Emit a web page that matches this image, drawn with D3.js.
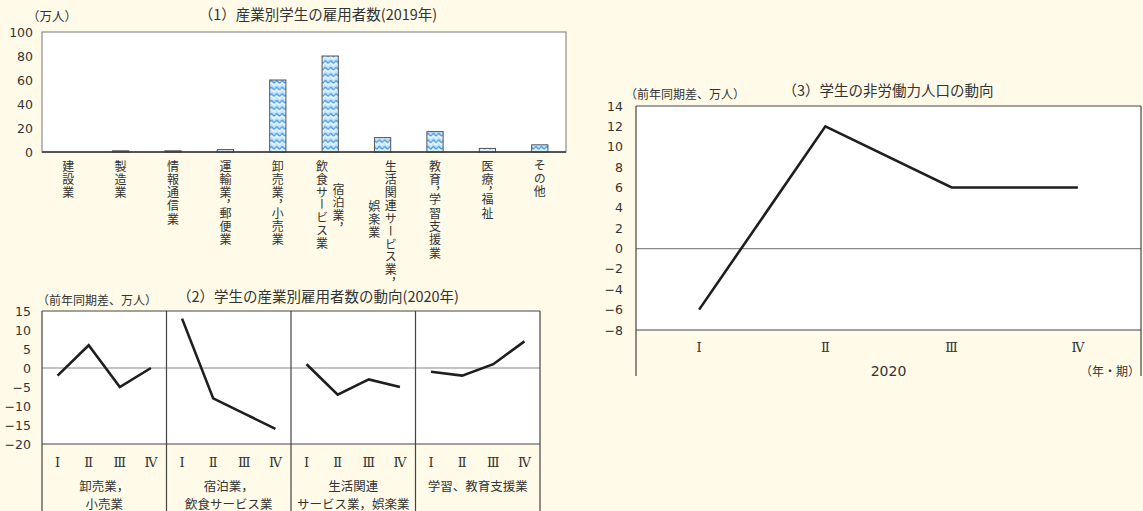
<!DOCTYPE html>
<html><head><meta charset="utf-8">
<script src="https://cdn.jsdelivr.net/npm/d3@7"></script>
<style>
html,body{margin:0;padding:0;background:#fffbe8;}
svg{display:block;font-family:"Noto Sans CJK JP","Noto Sans",sans-serif;}
.vt{writing-mode:vertical-rl;font-feature-settings:"vpal" 1;}
</style></head><body>
<svg id="c" width="1143" height="511"></svg>
<script>
// ---------- data ----------
const industries2019 = [["建設業"],["製造業"],["情報通信業"],["運輸業，郵便業"],["卸売業，小売業"],["宿泊業，","飲食サービス業"],["生活関連サービス業，","娯楽業"],["教育，学習支援業"],["医療，福祉"],["その他"]];
const students2019 = [0, 1, 1, 2, 60, 80, 12, 17, 3, 6];
const yTicks1 = [0, 20, 40, 60, 80, 100];

const quarters = ["Ⅰ","Ⅱ","Ⅲ","Ⅳ"];
const industries2020 = [["卸売業，","小売業"],["宿泊業，","飲食サービス業"],["生活関連","サービス業，娯楽業"],["学習、教育支援業"]];
const wholesaleRetail = [-2, 6, -5, 0];
const accommodationFood = [13, -8, -12, -16];
const livingAmusement = [1, -7, -3, -5];
const educationSupport = [-1, -2, 1, 7];
const yTicks2 = [15, 10, 5, 0, -5, -10, -15, -20];

const nonLabor2020 = [-6, 12, 6, 6];
const yTicks3 = [14, 12, 10, 8, 6, 4, 2, 0, -2, -4, -6, -8];

const title1 = "（1）産業別学生の雇用者数(2019年)";
const title2 = "（2）学生の産業別雇用者数の動向(2020年)";
const title3 = "（3）学生の非労働力人口の動向";
const unit1 = "（万人）";
const unit2 = "（前年同期差、万人）";
const yearLabel = "2020";
const periodLabel = "（年・期）";

// ---------- drawing ----------
const svg = d3.select("#c");
const TXT = "#333";
const FRAME = "#444";
const NUMFONT = "DejaVu Sans, sans-serif";
const ROMANFONT = "DejaVu Serif, serif";

const defs = svg.append("defs");
const pat = defs.append("pattern").attr("id","wave").attr("patternUnits","userSpaceOnUse")
  .attr("width",5.4).attr("height",6.6);
pat.append("rect").attr("width",5.4).attr("height",6.6).attr("fill","#bfe3fb");
pat.append("path").attr("d","M0,2.6 Q1.35,0.6 2.7,2.6 T5.4,2.6").attr("fill","none").attr("stroke","#3a8ee4").attr("stroke-width",1.2);
pat.append("path").attr("d","M0,5.0 Q1.35,3.0 2.7,5.0 T5.4,5.0").attr("fill","none").attr("stroke","#ffffff").attr("stroke-width",1.0);

function yAxis(g, scale, ticks, x, size) {
  const ax = d3.axisLeft(scale).tickValues(ticks).tickSize(0).tickPadding(0).tickFormat(d3.format("d"));
  const a = g.append("g").attr("transform",`translate(${x},0)`).call(ax);
  a.select(".domain").remove();
  a.selectAll("text").attr("font-size",size).attr("fill",TXT).attr("font-family",NUMFONT);
}

// ===== Panel 1 =====
{
  const L=42, R=566, T=32, B=152;
  const x = d3.scaleBand().domain(d3.range(industries2019.length)).range([L,R]).paddingInner(0.69).paddingOuter(0.345);
  const y = d3.scaleLinear().domain([0,100]).range([B,T]);
  const g = svg.append("g");
  g.append("rect").attr("x",L).attr("y",T).attr("width",R-L).attr("height",B-T).attr("fill","#fff").attr("stroke","#777").attr("stroke-width",1);
  g.selectAll(".bar").data(students2019.map((v,i)=>({v,i})).filter(d=>d.v>0)).join("rect")
    .attr("x",d=>x(d.i)).attr("width",x.bandwidth())
    .attr("y",d=>y(d.v)).attr("height",d=>y(0)-y(d.v))
    .attr("fill","url(#wave)").attr("stroke","#555").attr("stroke-width",1);
  g.append("line").attr("x1",L).attr("x2",R).attr("y1",B).attr("y2",B).attr("stroke","#333").attr("stroke-width",1.5);
  yAxis(g, y, yTicks1, 33, 12.5);
  const colOffsets = {5:[23,0], 6:[0,40]};
  industries2019.forEach((cols,i)=>{
    const cx = x(i)+x.bandwidth()/2;
    cols.forEach((c,j)=>{
      const off = ((cols.length-1)/2 - j)*16.5;
      const dy = colOffsets[i] ? colOffsets[i][j] : 0;
      g.append("text").attr("class","vt").text(c)
        .attr("x",cx+off).attr("y",160+dy)
        .attr("font-size",12).attr("fill",TXT)
        .attr("letter-spacing",1.3)
        .attr("dominant-baseline","central");
    });
  });
  g.append("text").text(unit1).attr("x",27).attr("y",15).attr("font-size",12.5).attr("fill",TXT).attr("dominant-baseline","central");
  g.append("text").text(title1).attr("x",318).attr("y",13).attr("text-anchor","middle").attr("font-size",14.5).attr("fill",TXT).attr("dominant-baseline","central");
}

// ===== Panel 2 =====
{
  const L=42, R=540, T=311, B=444, BOT=511;
  const series = [wholesaleRetail, accommodationFood, livingAmusement, educationSupport];
  const pw = (R-L)/series.length;
  const y = d3.scaleLinear().domain([-20,15]).range([B,T]);
  const g = svg.append("g");
  g.append("rect").attr("x",L).attr("y",T).attr("width",R-L).attr("height",B-T).attr("fill","#fff");
  g.append("line").attr("x1",L).attr("x2",R).attr("y1",y(0)).attr("y2",y(0)).attr("stroke","#888").attr("stroke-width",1.2);
  series.forEach((s,k)=>{
    const x0 = L+k*pw;
    const x = d3.scalePoint().domain(quarters).range([x0,x0+pw]).padding(0.5);
    const line = d3.line().x((d,i)=>x(quarters[i])).y(d=>y(d));
    g.append("path").datum(s).attr("d",line).attr("fill","none").attr("stroke","#1e1e1e").attr("stroke-width",2.6).attr("stroke-linejoin","miter");
    quarters.forEach(q=>{
      g.append("text").text(q).attr("x",x(q)).attr("y",462).attr("text-anchor","middle").attr("dominant-baseline","central")
        .attr("font-size",13).attr("fill",TXT).attr("font-family",ROMANFONT);
    });
    industries2020[k].forEach((t,j)=>{
      g.append("text").text(t).attr("x",x0+pw/2).attr("y",485+j*18).attr("text-anchor","middle").attr("dominant-baseline","central")
        .attr("font-size",12.5).attr("fill",TXT);
    });
  });
  g.append("line").attr("x1",L).attr("x2",R).attr("y1",T).attr("y2",T).attr("stroke",FRAME).attr("stroke-width",1.2);
  g.append("line").attr("x1",L).attr("x2",R).attr("y1",B).attr("y2",B).attr("stroke",FRAME).attr("stroke-width",1.2);
  d3.range(series.length+1).forEach(k=>{
    g.append("line").attr("x1",L+k*pw).attr("x2",L+k*pw).attr("y1",T).attr("y2",BOT).attr("stroke",FRAME).attr("stroke-width",1.2);
  });
  yAxis(g, y, yTicks2, 31, 12.5);
  g.append("text").text(unit2).attr("x",37).attr("y",299).attr("font-size",12).attr("fill",TXT).attr("dominant-baseline","central");
  g.append("text").text(title2).attr("x",318).attr("y",295).attr("text-anchor","middle").attr("font-size",14.5).attr("fill",TXT).attr("dominant-baseline","central");
}

// ===== Panel 3 =====
{
  const L=636, R=1141, T=106, B=330, BOT=376;
  const x = d3.scalePoint().domain(quarters).range([L,R]).padding(0.5);
  const y = d3.scaleLinear().domain([-8,14]).range([B,T]);
  const g = svg.append("g");
  g.append("rect").attr("x",L).attr("y",T).attr("width",R-L).attr("height",B-T).attr("fill","#fff");
  g.append("line").attr("x1",L).attr("x2",R).attr("y1",y(0)).attr("y2",y(0)).attr("stroke","#888").attr("stroke-width",1.2);
  const line = d3.line().x((d,i)=>x(quarters[i])).y(d=>y(d));
  g.append("path").datum(nonLabor2020).attr("d",line).attr("fill","none").attr("stroke","#1e1e1e").attr("stroke-width",2.6);
  g.append("line").attr("x1",L).attr("x2",R).attr("y1",T).attr("y2",T).attr("stroke",FRAME).attr("stroke-width",1.2);
  g.append("line").attr("x1",L).attr("x2",R).attr("y1",B).attr("y2",B).attr("stroke",FRAME).attr("stroke-width",1.2);
  g.append("line").attr("x1",L).attr("x2",L).attr("y1",T).attr("y2",BOT).attr("stroke",FRAME).attr("stroke-width",1.2);
  g.append("line").attr("x1",R).attr("x2",R).attr("y1",T).attr("y2",BOT).attr("stroke",FRAME).attr("stroke-width",1.2);
  quarters.forEach(q=>{
    g.append("text").text(q).attr("x",x(q)).attr("y",347).attr("text-anchor","middle").attr("dominant-baseline","central")
      .attr("font-size",13).attr("fill",TXT).attr("font-family",ROMANFONT);
  });
  g.append("text").text(yearLabel).attr("x",(L+R)/2).attr("y",371).attr("text-anchor","middle").attr("dominant-baseline","central").attr("font-size",14).attr("fill",TXT).attr("font-family",NUMFONT);
  g.append("text").text(periodLabel).attr("x",1140).attr("y",370).attr("text-anchor","end").attr("dominant-baseline","central").attr("font-size",12).attr("fill",TXT);
  yAxis(g, y, yTicks3, 623, 12.5);
  g.append("text").text(unit2).attr("x",625).attr("y",93).attr("font-size",12).attr("fill",TXT).attr("dominant-baseline","central");
  g.append("text").text(title3).attr("x",888).attr("y",89).attr("text-anchor","middle").attr("font-size",14.5).attr("fill",TXT).attr("dominant-baseline","central");
}
</script>
</body></html>
